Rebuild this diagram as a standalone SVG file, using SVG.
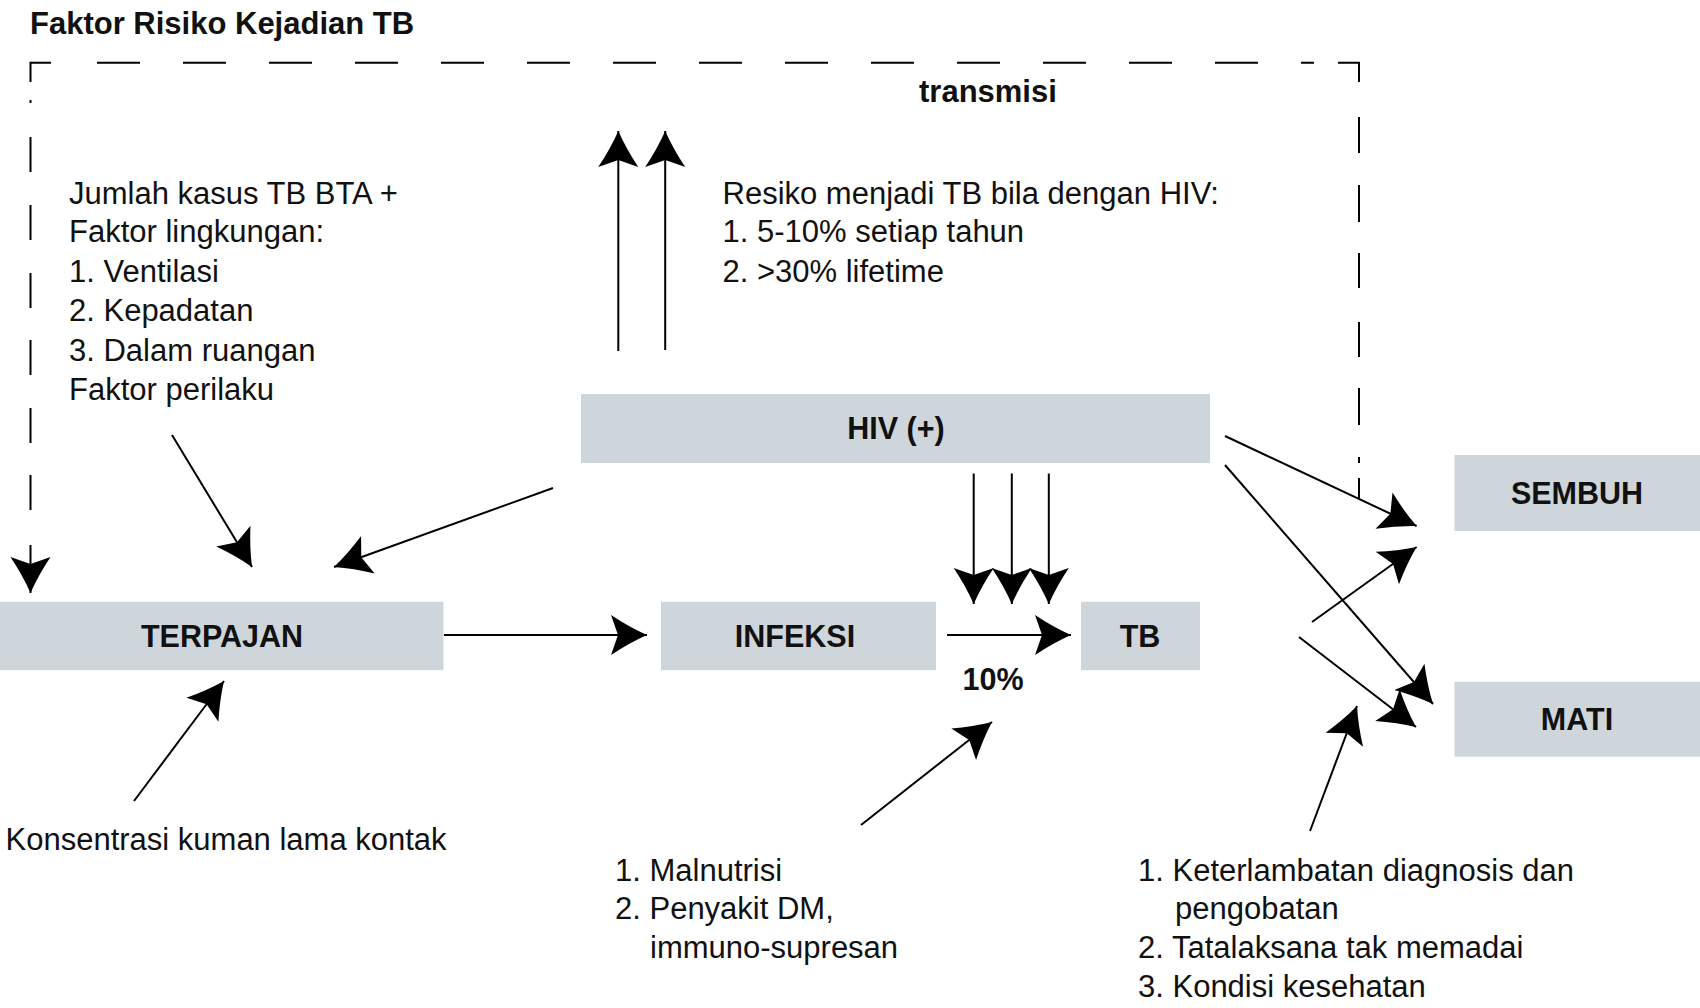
<svg xmlns="http://www.w3.org/2000/svg" width="1700" height="1008" viewBox="0 0 1700 1008">
<style>
.box{fill:#cfd6db}
.lbl{font-family:"Liberation Sans",Arial,sans-serif;font-weight:bold;font-size:30.5px;fill:#111;text-anchor:middle}
.txt{font-family:"Liberation Sans",Arial,sans-serif;font-size:31px;fill:#111}
.bold{font-family:"Liberation Sans",Arial,sans-serif;font-weight:bold;font-size:31px;fill:#111}
.ln{stroke:#000;stroke-width:2;fill:none}
.ar{stroke:#000;stroke-width:2;fill:none;marker-end:url(#ah)}
</style>
<defs>
<marker id="ah" markerUnits="userSpaceOnUse" markerWidth="40" markerHeight="40" refX="0" refY="0" orient="auto" overflow="visible">
<path d="M0,0 Q-18,-8 -36,-20 L-29,0 L-36,20 Q-18,8 0,0 Z" fill="#000"/>
</marker>
</defs>
<rect width="1700" height="1008" fill="#fff"/>
<text class="bold" x="30" y="33.5">Faktor Risiko Kejadian TB</text>
<text class="bold" x="919" y="102">transmisi</text>

<g id="boundary">
<path class="ln" d="M30.5,82 L30.5,62.7 L51,62.7 M97,62.7 L140,62.7 M183,62.7 L226,62.7 M269,62.7 L312,62.7 M355,62.7 L398,62.7 M441,62.7 L484,62.7 M527,62.7 L570,62.7 M613,62.7 L656,62.7 M699,62.7 L742,62.7 M785,62.7 L828,62.7 M871,62.7 L914,62.7 M957,62.7 L1000,62.7 M1043,62.7 L1086,62.7 M1129,62.7 L1172,62.7 M1215,62.7 L1258,62.7 M1301,62.7 L1314,62.7 M1338,62.7 L1359,62.7 L1359,82 M1359,117 L1359,153 M1359,185 L1359,222 M1359,253 L1359,288 M1359,322 L1359,357 M1359,388 L1359,425 M1359,457 L1359,463 M1359,478 L1359,498 M30.5,100 L30.5,103 M30.5,137 L30.5,172 M30.5,205 L30.5,240 M30.5,273 L30.5,308 M30.5,340 L30.5,375 M30.5,408 L30.5,443 M30.5,475 L30.5,510"/>
<path class="ar" d="M30.5,545 L30.5,593"/>
</g>

<g id="note-left">
<text class="txt" x="69" y="204">Jumlah kasus TB BTA +</text>
<text class="txt" x="69" y="242">Faktor lingkungan:</text>
<text class="txt" x="69" y="281.5">1. Ventilasi</text>
<text class="txt" x="69" y="321">2. Kepadatan</text>
<text class="txt" x="69" y="360.5">3. Dalam ruangan</text>
<text class="txt" x="69" y="400">Faktor perilaku</text>
</g>

<g id="note-hiv">
<text class="txt" x="722.5" y="204">Resiko menjadi TB bila dengan HIV:</text>
<text class="txt" x="722.5" y="242">1. 5-10% setiap tahun</text>
<text class="txt" x="722.5" y="281.5">2. &gt;30% lifetime</text>
</g>

<g id="hiv">
<rect class="box" x="581" y="394" width="629" height="69"/>
<text class="lbl" x="896" y="438.5">HIV (+)</text>
</g>
<g id="terpajan">
<rect class="box" x="0" y="601.7" width="443.5" height="68.5"/>
<text class="lbl" x="222" y="647">TERPAJAN</text>
</g>
<g id="infeksi">
<rect class="box" x="661" y="601.7" width="275" height="68.5"/>
<text class="lbl" x="795" y="647">INFEKSI</text>
</g>
<g id="tb">
<rect class="box" x="1081" y="601.7" width="119" height="68.5"/>
<text class="lbl" x="1140" y="647">TB</text>
</g>
<g id="sembuh">
<rect class="box" x="1454.5" y="455" width="245.5" height="76"/>
<text class="lbl" x="1577" y="504">SEMBUH</text>
</g>
<g id="mati">
<rect class="box" x="1454.5" y="681.7" width="245.5" height="75"/>
<text class="lbl" x="1577" y="730">MATI</text>
</g>

<text class="lbl" x="993" y="689.5">10%</text>

<g id="note-konsentrasi">
<text class="txt" x="5.5" y="850">Konsentrasi kuman lama kontak</text>
</g>
<g id="note-malnutrisi">
<text class="txt" x="615" y="880.5">1. Malnutrisi</text>
<text class="txt" x="615" y="918.5">2. Penyakit DM,</text>
<text class="txt" x="650" y="957.5">immuno-supresan</text>
</g>
<g id="note-keterlambatan">
<text class="txt" x="1138" y="880.5">1. Keterlambatan diagnosis dan</text>
<text class="txt" x="1175" y="918.5">pengobatan</text>
<text class="txt" x="1138" y="958">2. Tatalaksana tak memadai</text>
<text class="txt" x="1138" y="996.5">3. Kondisi kesehatan</text>
</g>

<g id="connectors">
<path class="ar" d="M618.3,351 L618.3,131"/>
<path class="ar" d="M665.2,350 L665.2,131"/>
<path class="ar" d="M172,435 L252,567"/>
<path class="ar" d="M553,488 L334,567"/>
<path class="ar" d="M134,801 L224,681"/>
<path class="ar" d="M444,635 L647,635"/>
<path class="ar" d="M947,635 L1071,635"/>
<path class="ar" d="M973.7,473.5 L973.7,604"/>
<path class="ar" d="M1011.8,473.5 L1011.8,604"/>
<path class="ar" d="M1048.8,473.5 L1048.8,604"/>
<path class="ar" d="M861,825 L992,722"/>
<path class="ar" d="M1225,436 L1416.6,526"/>
<path class="ar" d="M1225,465 L1433,704"/>
<path class="ar" d="M1312,622 L1416.6,547"/>
<path class="ar" d="M1299,637 L1416,727"/>
<path class="ar" d="M1310,831 L1357,706"/>
</g>
</svg>
